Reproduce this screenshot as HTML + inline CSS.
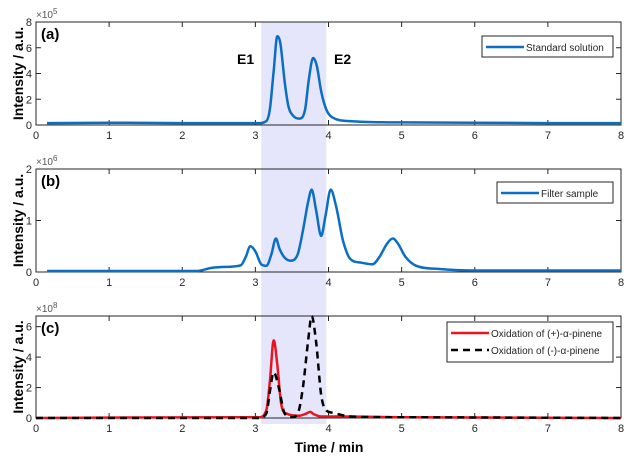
<!DOCTYPE html>
<html><head><meta charset="utf-8"><style>
body{margin:0;background:#fff;}
svg{display:block;font-family:"Liberation Sans",Arial,sans-serif;}
</style></head><body>
<svg id="chart" width="634" height="462"></svg>
<script>
const xTicks=[0,1,2,3,4,5,6,7,8];
const shadeRange=[3.08,3.97];
const aX=[0.15,1,2,3.05,3.15,3.2,3.25,3.3,3.34,3.4,3.45,3.52,3.6,3.68,3.73,3.79,3.84,3.9,3.97,4.05,4.3,5,6,7,8];
const aY=[0.15,0.18,0.15,0.15,0.3,1.3,4.2,6.9,6.4,3.4,1.5,0.7,0.5,1.2,3.5,5.2,4.6,2.6,1.2,0.6,0.3,0.2,0.18,0.15,0.15];
const bX=[0.15,2.05,2.2,2.4,2.6,2.8,2.87,2.93,3.0,3.08,3.15,3.22,3.28,3.33,3.4,3.48,3.58,3.65,3.72,3.77,3.83,3.9,3.96,4.03,4.1,4.2,4.3,4.45,4.6,4.7,4.8,4.88,4.95,5.05,5.2,5.5,6,8];
const bY=[0.02,0.02,0.02,0.08,0.1,0.13,0.3,0.5,0.4,0.15,0.12,0.35,0.65,0.45,0.28,0.22,0.35,0.8,1.35,1.6,1.2,0.7,1.1,1.6,1.3,0.6,0.25,0.18,0.15,0.3,0.55,0.65,0.55,0.3,0.12,0.06,0.03,0.03];
const cRedX=[0,2.8,3.05,3.15,3.2,3.25,3.3,3.35,3.42,3.6,3.7,3.75,3.8,3.9,4.2,5,8];
const cRedY=[0,0.05,0.05,0.5,2.5,5.1,3.5,1,0.3,0.15,0.3,0.4,0.25,0.1,0.1,0.05,0];
const cBlkX=[0,3.05,3.15,3.2,3.25,3.32,3.4,3.5,3.58,3.65,3.72,3.77,3.83,3.9,3.97,4.05,4.3,5,8];
const cBlkY=[0,0,0.3,1.8,3.0,2.0,0.3,0.05,0.3,2.0,5.0,6.7,5.0,1.5,0.5,0.35,0.1,0.05,0];

const NS="http://www.w3.org/2000/svg";
const svg=document.getElementById('chart');
function el(t,a,p){const e=document.createElementNS(NS,t);for(const k in a)e.setAttribute(k,a[k]);(p||svg).appendChild(e);return e;}
const L=36,R=621;
const sx=v=>L+(R-L)*v/8;
const panels=[
 {id:'a',top:22,bot:125,max:8,ticks:[0,2,4,6,8],exp:'5',label:'(a)'},
 {id:'b',top:169,bot:272,max:2,ticks:[0,1,2],exp:'6',label:'(b)'},
 {id:'c',top:316,bot:418,max:6.7,ticks:[0,2,4,6],exp:'8',label:'(c)'}];
const sy=(p,v)=>p.bot-(p.bot-p.top)*Math.min(v,p.max)/p.max;

const sh=el('rect',{x:sx(shadeRange[0]),y:22,width:sx(shadeRange[1])-sx(shadeRange[0]),height:402,fill:'#e5e5fb'});



// monotone cubic path
function monoPath(P){
  const n=P.length,d=[],m=[];
  for(let i=0;i<n-1;i++)d.push((P[i+1][1]-P[i][1])/(P[i+1][0]-P[i][0]));
  m[0]=d[0];m[n-1]=d[n-2];
  for(let i=1;i<n-1;i++)m[i]=(d[i-1]*d[i]<=0)?0:(d[i-1]+d[i])/2;
  for(let i=0;i<n-1;i++){if(d[i]===0){m[i]=0;m[i+1]=0;continue;}
    const a=m[i]/d[i],b=m[i+1]/d[i],s=a*a+b*b;
    if(s>9){const t=3/Math.sqrt(s);m[i]=t*a*d[i];m[i+1]=t*b*d[i];}}
  let s='M'+P[0][0].toFixed(1)+','+P[0][1].toFixed(1);
  for(let i=0;i<n-1;i++){const h=(P[i+1][0]-P[i][0])/3;
    s+='C'+(P[i][0]+h).toFixed(1)+','+(P[i][1]+m[i]*h).toFixed(1)+' '+(P[i+1][0]-h).toFixed(1)+','+(P[i+1][1]-m[i+1]*h).toFixed(1)+' '+P[i+1][0].toFixed(1)+','+P[i+1][1].toFixed(1);}
  return s;
}
function line(p,xs,ys,attrs,name){
  const P=xs.map((x,i)=>[sx(x),sy(p,ys[i])]);
  const e=el('path',Object.assign({d:monoPath(P),fill:'none','stroke-linejoin':'round'},attrs));
  
  
}

panels.forEach(p=>{
  const g=el('g',{});
  
  
  if(p.id==='a') line(p,aX,aY,{stroke:'#0a6ec4','stroke-width':2.5},'standard-solution-line');
  if(p.id==='b') line(p,bX,bY,{stroke:'#0a6ec4','stroke-width':2.5},'filter-sample-line');
  if(p.id==='c'){
    line(p,cRedX,cRedY,{stroke:'#e8141e','stroke-width':2.5},'plus-pinene-line');
    line(p,cBlkX,cBlkY,{stroke:'#000','stroke-width':2.5,'stroke-dasharray':'7,5'},'minus-pinene-line');
  }
  el('rect',{x:L,y:p.top,width:R-L,height:p.bot-p.top,fill:'none',stroke:'#262626','stroke-width':1},g);
  xTicks.forEach(t=>{
    el('line',{x1:sx(t),x2:sx(t),y1:p.bot,y2:p.bot-5,stroke:'#262626'},g);
    el('line',{x1:sx(t),x2:sx(t),y1:p.top,y2:p.top+5,stroke:'#262626'},g);
    const tx=el('text',{x:sx(t),y:p.bot+14,'font-size':11,'text-anchor':'middle',fill:'#262626'},g);
    tx.textContent=t;
    
    
  });
  p.ticks.forEach(t=>{
    const y=sy(p,t);
    el('line',{x1:L,x2:L+5,y1:y,y2:y,stroke:'#262626'},g);
    el('line',{x1:R,x2:R-5,y1:y,y2:y,stroke:'#262626'},g);
    const tx=el('text',{x:L-4,y:y+4,'font-size':11,'text-anchor':'end',fill:'#262626'},g);
    tx.textContent=t;
    
    
  });
  const ex=el('text',{x:L,y:p.top-4,'font-size':10,fill:'#555'},g);
  ex.innerHTML='×10<tspan dy="-4" font-size="8">'+p.exp+'</tspan>';
  
  
  const lb=el('text',{x:L+5,y:p.top+17,'font-size':15,'font-weight':'bold'},g);
  lb.textContent=p.label;
  
  
  const yt=el('text',{transform:'translate(23,'+((p.top+p.bot)/2)+') rotate(-90)','font-size':14,'font-weight':'bold','text-anchor':'middle'},g);
  yt.textContent='Intensity / a.u.';
  
  
});

function legend(x,y,w,h,items){
  const g=el('g',{});
  
  
  el('rect',{x:x,y:y,width:w,height:h,fill:'#fff',stroke:'#262626'},g);
  items.forEach((it,i)=>{
    const yy=y+11+i*17;
    const ln=el('line',{x1:x+4,x2:x+42,y1:yy,y2:yy,stroke:it.c,'stroke-width':2.5,'stroke-dasharray':it.d||'none'},g);
    
    
    const t=el('text',{x:x+44,y:yy+4,'font-size':10,fill:'#262626'},g);
    t.textContent=it.t;
    
    
  });
}
legend(482,36,131,21,[{c:'#0a6ec4',t:'Standard solution'}]);
legend(497,182,116,21,[{c:'#0a6ec4',t:'Filter sample'}]);
legend(447,322,166,40,[{c:'#e8141e',t:'Oxidation of (+)-\u03b1-pinene'},{c:'#000',d:'7,5',t:'Oxidation of (-)-\u03b1-pinene'}]);

[['E1',237,64],['E2',334,64]].forEach(a=>{
  const t=el('text',{x:a[1],y:a[2],'font-size':14,'font-weight':'bold'});
  t.textContent=a[0];
  
  
});
const xt=el('text',{x:329,y:452,'font-size':14,'font-weight':'bold','text-anchor':'middle'});
xt.textContent='Time / min';


</script>
</body></html>
